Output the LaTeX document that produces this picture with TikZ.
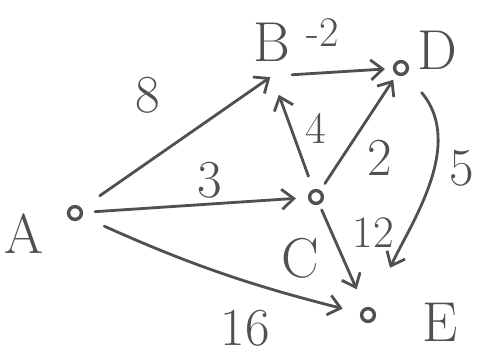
\documentclass[tikz,border=0pt]{standalone}
\usepackage{xcolor}
\usepackage{tikz}
\usetikzlibrary{arrows.meta}

\definecolor{inkgray}{HTML}{505050}

\begin{document}
\begin{tikzpicture}[
            x=0.025cm, y=-0.025cm,             % 1 unidad = 1 pixel de la imagen
            vertex/.style={
                circle,
                draw=inkgray,
                line width=2.4pt,
                minimum size=0.32cm,
                inner sep=0pt
            },
            vname/.style={
                text=inkgray,
                font=\fontsize{40}{40}\selectfont
            },
            weight/.style={
                text=inkgray,
                font=\fontsize{38}{38}\selectfont
            },
            edge/.style={
                draw=inkgray,
                line width=2pt,
                line cap=round,
                -{Straight Barb[length=3mm, width=5mm]}
            }
        ]
            \useasboundingbox (0,0) rectangle (486,358);

            % --- VERTICES ---
            \node [vertex] (a) at (75,213) {};
            \coordinate (b) at (272,76);
            \node [vertex] (c) at (316,197) {};
            \node [vertex] (d) at (401,68) {};
            \node [vertex] (e) at (368,315) {};

            \node [vname] (a_lbl) at (24,234) {A};
            \node [vname] (b_lbl) at (272,42) {B};
            \node [vname] (c_lbl) at (300,258) {C};
            \node [vname] (d_lbl) at (437,50) {D};
            \node [vname] (e_lbl) at (440,322) {E};

            % --- PESOS ---
            \node [weight] (w_ab) at (148,95) {8};
            \node [weight] (w_ac) at (210,180) {3};
            \node [weight] (w_ae) at (245,328) {16};
            \node [weight, font=\fontsize{30}{30}\selectfont] (w_bd) at (323,33) {-2};
            \node [weight, font=\fontsize{32}{32}\selectfont] (w_cb) at (316,128) {4};
            \node [weight] (w_cd) at (380,158) {2};
            \node [weight, font=\fontsize{32}{32}\selectfont] (w_ce) at (373,233) {12};
            \node [weight] (w_de) at (462,168) {5};

            % --- ARISTAS ---
            \path [edge, shorten <=0.55cm, shorten >=0.05cm] (a) -- (b);
            \path [edge, shorten <=0.3cm, shorten >=0.3cm] (a) -- (c);
            \path [edge, shorten <=0.6cm, shorten >=0.45cm] (a) to[bend right=5] (e);
            \path [edge, shorten <=0.5cm, shorten >=0.2cm] (b) -- (d);
            \path [edge, shorten <=0.35cm, shorten >=0.5cm] (c) -- (b);
            \path [edge, shorten <=0.2cm, shorten >=0.15cm] (c) -- (d);
            \path [edge, shorten <=0.15cm, shorten >=0.5cm] (c) -- (e);
            \path [edge, shorten <=0.6cm, shorten >=1.1cm] (d) to[out=-50, in=65] (e);
        \end{tikzpicture}
\end{document}
